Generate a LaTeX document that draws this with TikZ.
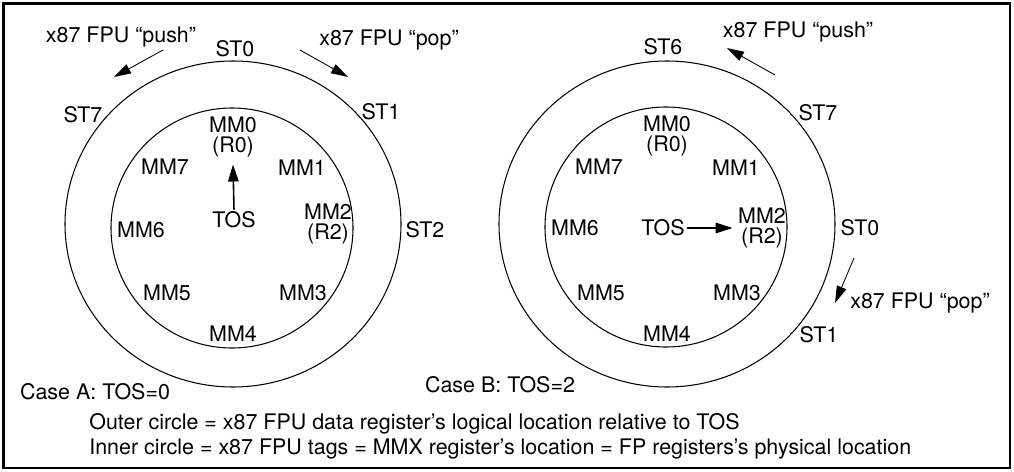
\documentclass[tikz,border=0pt]{standalone}
\usepackage{fontspec}
\setmainfont{TeX Gyre Heros}
\usetikzlibrary{arrows.meta}
\begin{document}
\begin{tikzpicture}[
  font=\fontsize{12.2}{14}\selectfont,
  ring/.style={draw, line width=0.6pt},
  reg/.style={inner sep=1pt, align=center, font=\fontsize{12.2}{11.4}\selectfont},
  stlabel/.style={inner sep=1pt},
  flow/.style={-{Triangle[length=0.34cm, width=0.2cm]}, line width=0.5pt},
  tosarrow/.style={-{Triangle[length=0.34cm, width=0.21cm]}, line width=0.9pt},
]
\useasboundingbox (0,0) rectangle (20.28,-9.44);
\draw[line width=1.2pt] (0.07,-0.07) rectangle (20.2,-9.36);

% ── Case A: TOS=0 ─────────────────────────────────────────────────────────────
\draw[ring] (4.66,-4.48) ellipse [x radius=3.36, y radius=3.26];
\draw[ring] (4.64,-4.56) ellipse [x radius=2.42, y radius=2.40];

\node[stlabel] (stA0) at (4.70,-0.98) {ST0};
\node[stlabel] (stA1) at (7.62,-2.24) {ST1};
\node[stlabel] (stA2) at (8.50,-4.60) {ST2};
\node[stlabel] (stA7) at (1.66,-2.30) {ST7};

\node[reg] (mmA0) at (4.66,-2.74) {MM0\\(R0)};
\node[reg] (mmA1) at (6.04,-3.36) {MM1};
\node[reg] (mmA2) at (6.56,-4.48) {MM2\\(R2)};
\node[reg] (mmA3) at (6.06,-5.86) {MM3};
\node[reg] (mmA4) at (4.66,-6.68) {MM4};
\node[reg] (mmA5) at (3.34,-5.86) {MM5};
\node[reg] (mmA6) at (2.82,-4.60) {MM6};
\node[reg] (mmA7) at (3.30,-3.34) {MM7};

\node[reg] (tosA) at (4.68,-4.40) {TOS};
\draw[tosarrow] (tosA.north) -- ([yshift=-3pt]mmA0.south);

\node (pushA) at (2.42,-0.74) {x87 FPU “push”};
\node (popA)  at (7.78,-0.80) {x87 FPU “pop”};
\coordinate (pushA-from) at (3.26,-1.00);
\coordinate (pushA-to)   at (2.28,-1.54);
\coordinate (popA-from)  at (6.00,-1.00);
\coordinate (popA-to)    at (6.96,-1.54);
\draw[flow] (pushA-from) -- (pushA-to);
\draw[flow] (popA-from) -- (popA-to);

\node (caseA) at (1.90,-7.84) {Case A: TOS=0};

% ── Case B: TOS=2 ─────────────────────────────────────────────────────────────
\draw[ring] (13.34,-4.48) ellipse [x radius=3.36, y radius=3.26];
\draw[ring] (13.32,-4.54) ellipse [x radius=2.42, y radius=2.40];

\node[stlabel] (stB6) at (13.26,-0.94) {ST6};
\node[stlabel] (stB7) at (16.36,-2.26) {ST7};
\node[stlabel] (stB0) at (17.20,-4.56) {ST0};
\node[stlabel] (stB1) at (16.38,-6.70) {ST1};

\node[reg] (mmB0) at (13.34,-2.72) {MM0\\(R0)};
\node[reg] (mmB1) at (14.72,-3.36) {MM1};
\node[reg] (mmB2) at (15.24,-4.56) {MM2\\(R2)};
\node[reg] (mmB3) at (14.74,-5.86) {MM3};
\node[reg] (mmB4) at (13.34,-6.68) {MM4};
\node[reg] (mmB5) at (12.02,-5.86) {MM5};
\node[reg] (mmB6) at (11.50,-4.56) {MM6};
\node[reg] (mmB7) at (11.98,-3.34) {MM7};

\node[reg] (tosB) at (13.26,-4.56) {TOS};
\draw[tosarrow] (tosB.east) -- ([xshift=-2pt]mmB2.west);

\node (pushB) at (15.96,-0.64) {x87 FPU “push”};
\node (popB)  at (18.40,-6.06) {x87 FPU “pop”};
\coordinate (pushB-from) at (15.50,-1.50);
\coordinate (pushB-to)   at (14.54,-0.96);
\coordinate (popB-from)  at (17.08,-5.16);
\coordinate (popB-to)    at (16.70,-6.06);
\draw[flow] (pushB-from) -- (pushB-to);
\draw[flow] (popB-from) -- (popB-to);

\node (caseB) at (10.00,-7.70) {Case B: TOS=2};

% ── Legend ────────────────────────────────────────────────────────────────────
\node[anchor=west, inner sep=0pt] (outerNote) at (1.78,-8.48)
  {Outer circle = x87 FPU data register’s logical location relative to TOS};
\node[anchor=west, inner sep=0pt] (innerNote) at (1.78,-8.98)
  {Inner circle = x87 FPU tags = MMX register’s location = FP registers’s physical location};

\end{tikzpicture}
\end{document}
